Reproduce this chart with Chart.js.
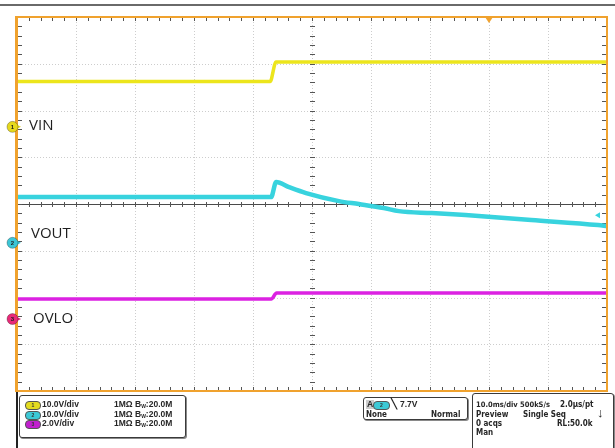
<!DOCTYPE html>
<html lang="en">
<head>
  <meta charset="UTF-8">
  <title>VIN / VOUT / OVLO</title>
  <script src="https://cdn.jsdelivr.net/npm/chart.js"></script>
  <style>
    body { margin: 0; background: #fff; }
    #wrap { position: relative; width: 615px; height: 448px; overflow: hidden; font-family: "Liberation Sans", Arial, sans-serif; }
    #wrap canvas { position: absolute; left: 0; top: 0; }
    .box { position: absolute; border: 1px solid #3a3a3a; border-radius: 3px; background: #fff; box-shadow: 1px 1px 0 #8a8a8a; }
    .t { position: absolute; font-size: 8.5px; font-weight: bold; color: #262626; white-space: nowrap; line-height: 9px; }
    .n { font-family: "Liberation Sans Narrow", "DejaVu Sans Condensed", Arial, sans-serif; font-size: 8px; }
    .chip { position: absolute; width: 14px; height: 7px; border-radius: 4px; border: 1px solid #555; font-size: 5px; line-height: 7px; text-align: center; color: #333; font-weight: bold; }
    sub { font-size: 5px; vertical-align: -1px; }
  </style>
</head>
<body>
  <div id="wrap">
    <canvas id="scope" width="615" height="448"></canvas>

    <!-- panel under the graticule -->
    <div style="position:absolute;left:16px;top:392px;width:2px;height:56px;background:#222"></div>

    <div class="box" style="left:19px;top:395px;width:165px;height:41px">
      <div class="chip" style="left:5px;top:5px;background:#e3dc20">1</div>
      <div class="t" style="left:22px;top:4px">10.0V/div</div>
      <div class="t" style="left:94px;top:4px">1MΩ B<sub>W</sub>:20.0M</div>
      <div class="chip" style="left:5px;top:15px;background:#3cc9d6">2</div>
      <div class="t" style="left:22px;top:14px">10.0V/div</div>
      <div class="t" style="left:94px;top:14px">1MΩ B<sub>W</sub>:20.0M</div>
      <div class="chip" style="left:5px;top:24px;background:#c21fcf">3</div>
      <div class="t" style="left:22px;top:23px">2.0V/div</div>
      <div class="t" style="left:94px;top:23px">1MΩ B<sub>W</sub>:20.0M</div>
    </div>

    <div class="box" style="left:363px;top:397px;width:103px;height:21px">
      <div class="t" style="left:2px;top:2px;background:#ccc;padding:0 1px">A</div>
      <div class="chip" style="left:9px;top:3px;width:15px;background:#3cc9d6">2</div>
      <div class="t" style="left:27px;top:1px;font-size:10px">&#x2572;</div>
      <div class="t" style="left:36px;top:2px">7.7V</div>
      <div class="t n" style="left:2px;top:12px">None</div>
      <div class="t n" style="left:67px;top:12px">Normal</div>
    </div>

    <div class="box" style="left:472px;top:393px;width:140px;height:60px;border-radius:3px 3px 0 0">
      <div class="t n" style="left:3px;top:6px;font-size:7.5px">10.0ms/div 500kS/s</div>
      <div class="t n" style="left:87px;top:6px">2.0µs/pt</div>
      <div class="t n" style="left:3px;top:16px">Preview</div>
      <div class="t n" style="left:50px;top:16px">Single Seq</div>
      <div class="t" style="left:124px;top:12px;font-size:13px;line-height:14px">&#x2193;</div>
      <div class="t n" style="left:3px;top:25px">0 acqs</div>
      <div class="t n" style="left:84px;top:25px">RL:50.0k</div>
      <div class="t n" style="left:3px;top:34px">Man</div>
    </div>
  </div>

  <script>
    // time axis: 10 ms/div, 10 divisions
    const msPerDiv = 10;
    const timeDivs = 10;
    const voltDivs = 8;

    // CH1 VIN (10 V/div)
    const vinTime  = [0, 42.9, 43.9, 100];
    const vinVolts = [9.7, 9.7, 13.9, 13.9];

    // CH2 VOUT (10 V/div)
    const voutTime  = [0, 43.07, 43.92, 46.11, 48.99, 54.56, 57.94, 62.16, 64.70, 70.27, 76.01, 87.16, 98.48, 100];
    const voutVolts = [9.78, 9.78, 12.98, 11.9, 10.63, 8.92, 8.28, 7.43, 6.78, 6.35, 5.93, 4.86, 3.79, 3.57];

    // CH3 OVLO (2 V/div)
    const ovloTime  = [0, 43.1, 44.0, 100];
    const ovloVolts = [0.86, 0.86, 1.11, 1.11];

    // scope settings
    const channels = [
      { name: 'VIN',  axis: 'yVin',  vPerDiv: 10, groundDiv: 5.65, color: '#ece51c', mark: '#e6d91e', num: '1' },
      { name: 'VOUT', axis: 'yVout', vPerDiv: 10, groundDiv: 3.17, color: '#38d3de', mark: '#3cc6d6', num: '2' },
      { name: 'OVLO', axis: 'yOvlo', vPerDiv: 2,  groundDiv: 1.54, color: '#dc22e2', mark: '#e82a78', num: '3' }
    ];
    const triggerTimeMs = 80;
    const triggerLevelV = 5.9;

    function pts(t, v) {
      return t.map((x, i) => ({ x: x, y: v[i] }));
    }

    function chAxis(ch) {
      return {
        type: 'linear',
        display: false,
        min: -ch.groundDiv * ch.vPerDiv,
        max: (voltDivs - ch.groundDiv) * ch.vPerDiv
      };
    }

    const orange = '#f0a22e';

    const scopeFrame = {
      id: 'scopeFrame',
      beforeDatasetsDraw(chart) {
        const ctx = chart.ctx;
        const a = chart.chartArea;
        const xs = chart.scales.x, ys = chart.scales.yDiv;
        const cx = xs.getPixelForValue(msPerDiv * timeDivs / 2);
        const cy = ys.getPixelForValue(voltDivs / 2);
        const dx = (a.right - a.left) / (timeDivs * 5);
        const dy = (a.bottom - a.top) / (voltDivs * 5);
        ctx.save();
        // dotted graticule
        ctx.strokeStyle = '#cdcdcd';
        ctx.lineWidth = 1;
        ctx.setLineDash([1, 2]);
        ctx.beginPath();
        for (let i = 1; i < timeDivs; i++) {
          const x = Math.round(xs.getPixelForValue(i * msPerDiv)) + 0.5;
          ctx.moveTo(x, a.top + 2); ctx.lineTo(x, a.bottom - 2);
        }
        for (let j = 1; j < voltDivs; j++) {
          const y = Math.round(ys.getPixelForValue(j)) + 0.5;
          ctx.moveTo(a.left + 2, y); ctx.lineTo(a.right - 2, y);
        }
        ctx.stroke();
        ctx.setLineDash([]);
        // center axes
        ctx.strokeStyle = '#4a4a4a';
        ctx.beginPath();
        ctx.moveTo(a.left, Math.round(cy) + 0.5);
        ctx.lineTo(a.right, Math.round(cy) + 0.5);
        ctx.stroke();
        ctx.strokeStyle = '#555';
        ctx.beginPath();
        for (let i = 1; i < timeDivs * 5; i++) {
          const x = Math.round(a.left + i * dx) + 0.5;
          ctx.moveTo(x, cy - 2); ctx.lineTo(x, cy + 3);
          ctx.moveTo(x, a.top); ctx.lineTo(x, a.top + 4);
          ctx.moveTo(x, a.bottom); ctx.lineTo(x, a.bottom - 4);
        }
        for (let j = 1; j < voltDivs * 5; j++) {
          const y = Math.round(a.top + j * dy) + 0.5;
          ctx.moveTo(cx - 2, y); ctx.lineTo(cx + 3, y);
          ctx.moveTo(a.left, y); ctx.lineTo(a.left + 5, y);
          ctx.moveTo(a.right, y); ctx.lineTo(a.right - 5, y);
        }
        ctx.stroke();
        ctx.restore();
      },
      afterDatasetsDraw(chart) {
        const ctx = chart.ctx;
        const a = chart.chartArea;
        ctx.save();
        // top bar
        ctx.fillStyle = '#6a6a6a';
        ctx.fillRect(0, 4, chart.width, 2);
        // graticule frame
        ctx.strokeStyle = orange;
        ctx.lineWidth = 2;
        ctx.strokeRect(a.left, a.top, a.right - a.left, a.bottom - a.top);
        ctx.lineWidth = 3;
        ctx.beginPath();
        ctx.moveTo(a.left - 0.5, a.top - 1); ctx.lineTo(a.left - 0.5, a.bottom + 1);
        ctx.stroke();

        // horizontal position marker
        const tx = chart.scales.x.getPixelForValue(triggerTimeMs);
        ctx.fillStyle = orange;
        ctx.beginPath();
        ctx.moveTo(tx - 4, a.top); ctx.lineTo(tx + 4, a.top); ctx.lineTo(tx, a.top + 6);
        ctx.closePath(); ctx.fill();

        // trigger level marker on CH2
        const ly = chart.scales.yVout.getPixelForValue(triggerLevelV);
        ctx.fillStyle = '#38d3de';
        ctx.beginPath();
        ctx.moveTo(a.right - 12, ly); ctx.lineTo(a.right - 7, ly - 3); ctx.lineTo(a.right - 7, ly + 3);
        ctx.closePath(); ctx.fill();

        // ground markers and names
        const labelShift = { VIN: [29, -1], VOUT: [31, -9], OVLO: [33, 0] };
        channels.forEach(ch => {
          const gy = chart.scales[ch.axis].getPixelForValue(0);
          ctx.fillStyle = ch.mark;
          ctx.beginPath();
          ctx.moveTo(16, gy - 2.5); ctx.lineTo(21, gy); ctx.lineTo(16, gy + 2.5);
          ctx.closePath(); ctx.fill();
          ctx.beginPath();
          ctx.arc(12.5, gy, 5.5, 0, Math.PI * 2);
          ctx.fill();
          ctx.strokeStyle = 'rgba(0,0,0,0.35)';
          ctx.lineWidth = 0.8;
          ctx.stroke();
          ctx.fillStyle = '#222';
          ctx.font = 'bold 6px "Liberation Sans", Arial';
          ctx.textAlign = 'center';
          ctx.textBaseline = 'middle';
          ctx.fillText(ch.num, 12.5, gy + 0.5);
          ctx.font = '15px "Open Sans", Lato, sans-serif';
          ctx.textAlign = 'left';
          ctx.fillStyle = '#1e1e1e';
          const s = labelShift[ch.name];
          ctx.fillText(ch.name, s[0], gy + s[1]);
        });
        ctx.restore();
      }
    };

    const gridStyle = { display: false, drawTicks: false };

    new Chart(document.getElementById('scope'), {
      type: 'scatter',
      data: {
        datasets: [
          { label: 'VIN',  data: pts(vinTime, vinVolts),   yAxisID: 'yVin',  borderColor: channels[0].color, borderWidth: 3.5 },
          { label: 'OVLO', data: pts(ovloTime, ovloVolts), yAxisID: 'yOvlo', borderColor: channels[2].color, borderWidth: 3.5 },
          { label: 'VOUT', data: pts(voutTime, voutVolts), yAxisID: 'yVout', borderColor: channels[1].color, borderWidth: 4.5 }
        ].map(d => Object.assign(d, { showLine: true, pointRadius: 0, cubicInterpolationMode: 'monotone', borderJoinStyle: 'round' }))
      },
      options: {
        responsive: false,
        animation: false,
        events: [],
        layout: { padding: { left: 17, top: 17, right: 8, bottom: 57 } },
        plugins: { legend: { display: false }, tooltip: { enabled: false } },
        scales: {
          x: {
            type: 'linear', min: 0, max: msPerDiv * timeDivs,
            ticks: { display: false, stepSize: msPerDiv },
            grid: gridStyle,
            border: { display: false }
          },
          yDiv: {
            type: 'linear', position: 'left', min: 0, max: voltDivs,
            ticks: { display: false, stepSize: 1 },
            grid: gridStyle,
            border: { display: false }
          },
          yVin: chAxis(channels[0]),
          yVout: chAxis(channels[1]),
          yOvlo: chAxis(channels[2])
        }
      },
      plugins: [scopeFrame]
    });
  </script>
</body>
</html>
